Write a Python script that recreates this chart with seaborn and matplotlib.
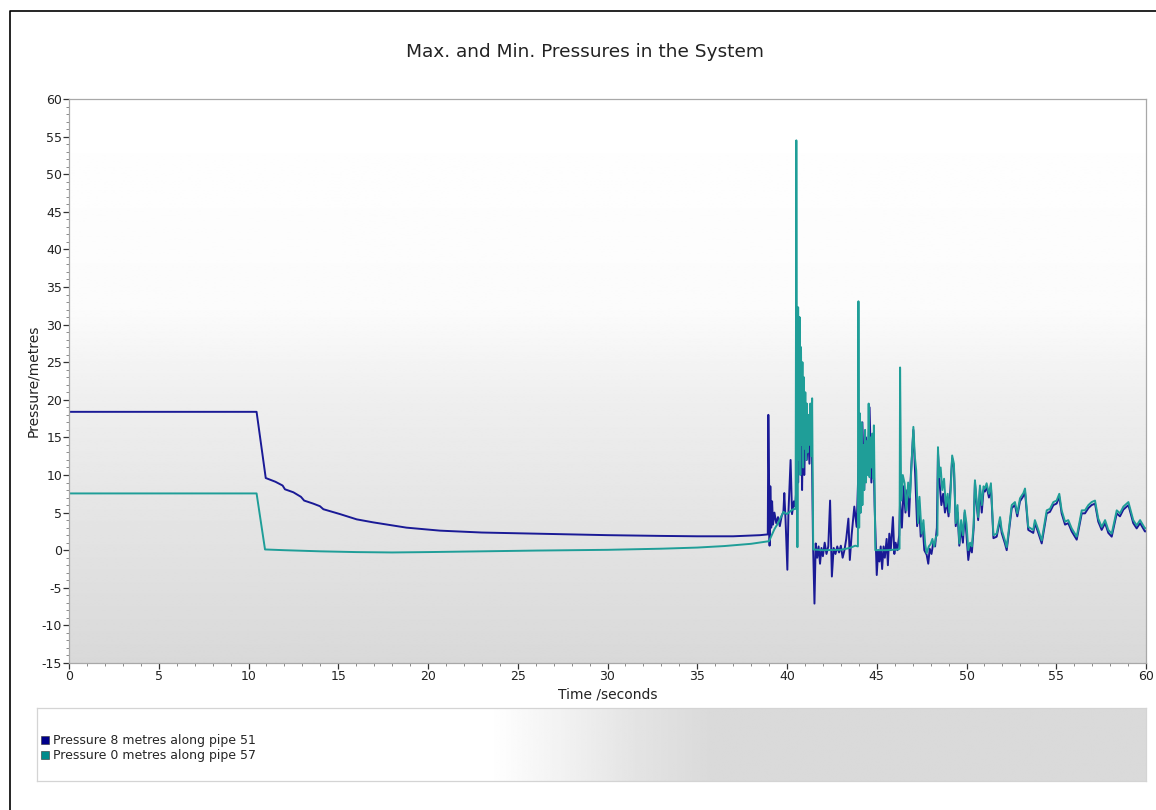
import numpy as np
import pandas as pd
import matplotlib
matplotlib.use("Agg")
import matplotlib.pyplot as plt
import seaborn as sns
from matplotlib.lines import Line2D
from matplotlib.ticker import MultipleLocator

sns.set_theme(style="white")
plt.rcParams['font.family'] = ['DejaVu Sans']
plt.rcParams['axes.unicode_minus'] = False

# ---------------- data ----------------
title = "Max. and Min. Pressures in the System"
x_label = "Time /seconds"
y_label = "Pressure/metres"
series_names = ["Pressure 8 metres along pipe 51", "Pressure 0 metres along pipe 57"]
series_colors = ["#1a1a96", "#1f9e98"]
legend_colors = ["#00008b", "#008b8b"]
x_ticks = list(range(0, 61, 5))
y_ticks = list(range(-15, 61, 5))

t_pipe51 = [0, 10.45, 10.96, 11.5, 11.9, 12.03, 12.5, 12.92, 13.1, 13.6, 13.98, 14.17, 15.1, 16.03,
            16.95, 18.8, 20.67, 23.0, 25.0, 28.0, 30.0, 33.0, 35.0, 37.0, 38.5, 38.93,
            38.96, 39.0, 39.03, 39.07, 39.12, 39.17, 39.22, 39.3, 39.4, 39.5, 39.6, 39.7, 39.8,
            39.85, 39.92, 40.02, 40.08, 40.2, 40.28, 40.38, 40.45, 40.52, 40.56, 40.62, 40.67,
            40.72, 40.78, 40.84, 40.9, 40.96, 41.02, 41.1, 41.18, 41.25, 41.32, 41.38, 41.45,
            41.53, 41.6, 41.68, 41.76, 41.84, 41.92, 42.0, 42.1, 42.2, 42.3, 42.4, 42.5, 42.6,
            42.7, 42.8, 42.9, 43.0, 43.1, 43.2, 43.3, 43.42, 43.5, 43.6, 43.75, 43.88, 43.97,
            44.02, 44.1, 44.2, 44.3, 44.4, 44.5, 44.6, 44.7, 44.8, 44.88, 44.95, 45.0, 45.08,
            45.15, 45.22, 45.3, 45.38, 45.45, 45.55, 45.62, 45.7, 45.78, 45.9, 45.98, 46.05,
            46.15, 46.25, 46.3, 46.4, 46.5, 46.6, 46.7, 46.8, 46.9, 47.04, 47.15, 47.25, 47.35,
            47.45, 47.55, 47.65, 47.78, 47.87, 47.95, 48.05, 48.15, 48.25, 48.35, 48.41, 48.5,
            48.6, 48.7, 48.8, 48.9, 49.0, 49.1, 49.2, 49.3, 49.4, 49.5, 49.6, 49.7, 49.8, 49.9,
            50.0, 50.1, 50.2, 50.3, 50.4, 50.47, 50.55, 50.65, 50.75, 50.85, 50.95, 51.03,
            51.12, 51.25, 51.36, 51.5, 51.68, 51.87, 51.96, 52.14, 52.24, 52.52, 52.7, 52.83,
            52.98, 53.17, 53.26, 53.44, 53.72, 53.81, 54.0, 54.19, 54.47, 54.65, 54.84, 55.02,
            55.17, 55.3, 55.49, 55.67, 55.86, 56.14, 56.42, 56.6, 56.79, 56.97, 57.16, 57.34,
            57.53, 57.72, 57.9, 58.09, 58.37, 58.55, 58.74, 59.02, 59.29, 59.48, 59.67, 59.94,
            60.0]
p_pipe51 = [18.4, 18.4, 9.6, 9.1, 8.6, 8.1, 7.7, 7.1, 6.6, 6.2, 5.85, 5.45, 4.8, 4.1,
            3.7, 3.0, 2.6, 2.35, 2.25, 2.1, 2.0, 1.9, 1.85, 1.85, 2.0, 2.1,
            18.0, 9.3, 0.6, 8.5, 3.0, 6.5, 3.4, 5.0, 3.6, 4.4, 3.2, 4.5, 5.1,
            7.6, 4.0, -2.6, 5.0, 12.0, 4.8, 6.5, 5.8, 8.0, 27.0, 9.0, 24.0,
            11.0, 20.0, 8.0, 17.5, 10.0, 15.0, 12.0, 16.0, 11.5, 18.0, 14.6, 0.9,
            -7.1, 0.9, -1.0, 0.5, -1.8, 0.3, -0.8, 1.0, -0.5, 0.5, 6.6, -3.5, 0.3,
            -0.5, 0.5, -0.3, 0.6, -1.0, 0.0, 1.5, 4.2, -1.3, 2.0, 5.8, 3.1, 10.0,
            18.0, 5.0, 17.0, 8.0, 15.0, 10.5, 19.0, 9.0, 15.5, 6.0, 0.5, -3.3, 0.0,
            -1.5, 0.5, -2.5, 0.5, -1.0, 1.5, -2.0, 2.2, 0.0, 4.4, -0.5, 1.0,
            0.0, 2.0, 6.5, 3.0, 8.5, 5.0, 8.0, 4.5, 10.0, 16.0, 9.5, 3.2, 6.5,
            1.8, 3.5, 0.0, -0.6, -1.8, 0.2, -0.5, 1.0, 0.5, 3.0, 13.0, 9.0,
            6.0, 7.5, 5.0, 6.5, 4.5, 8.0, 12.2, 11.0, 3.2, 5.0, 0.6, 3.0, 1.0, 5.0,
            2.0, -1.3, 0.5, -0.3, 3.0, 9.0, 6.5, 4.0, 8.2, 5.0, 8.0, 7.8,
            8.5, 7.0, 8.5, 1.6, 1.8, 4.0, 2.3, 0.9, 0.0, 5.6, 6.0, 4.5,
            6.5, 7.2, 7.8, 2.7, 2.3, 3.6, 2.3, 0.9, 4.9, 5.1, 6.0, 6.2,
            7.1, 4.9, 3.4, 3.6, 2.5, 1.4, 4.9, 4.9, 5.6, 6.0, 6.2, 3.8,
            2.7, 3.6, 2.3, 1.8, 4.9, 4.5, 5.4, 6.0, 3.6, 2.9, 3.6, 2.5,
            2.5]

t_pipe57 = [0, 10.45, 10.92, 12.0, 14.0, 16.0, 18.0, 20.0, 23.0, 26.0, 30.0, 33.0, 35.0, 36.5,
            38.0, 39.0, 39.3, 39.5, 39.8, 40.0, 40.3, 40.48, 40.52, 40.58, 40.62, 40.66, 40.7,
            40.74, 40.78, 40.82, 40.86, 40.9, 40.94, 40.98, 41.02, 41.06, 41.1, 41.15, 41.2,
            41.25, 41.3, 41.35, 41.4, 41.46, 42.0, 43.0, 43.5, 43.8, 43.95, 43.98, 44.02, 44.06,
            44.1, 44.15, 44.2, 44.25, 44.3, 44.35, 44.4, 44.45, 44.5, 44.55, 44.6, 44.65, 44.7,
            44.75, 44.8, 44.84, 44.92, 45.5, 46.2, 46.27, 46.3, 46.36, 46.45, 46.55, 46.65,
            46.75, 46.85, 46.95, 47.04, 47.12, 47.2, 47.3, 47.38, 47.5, 47.6, 47.7, 47.78, 47.9,
            48.0, 48.1, 48.2, 48.3, 48.38, 48.41, 48.48, 48.56, 48.65, 48.75, 48.85, 48.95,
            49.05, 49.12, 49.2, 49.3, 49.4, 49.5, 49.6, 49.7, 49.8, 49.9, 50.0, 50.1, 50.2,
            50.3, 50.4, 50.47, 50.55, 50.65, 50.75, 50.85, 50.95, 51.03, 51.12, 51.25, 51.36,
            51.5, 51.68, 51.87, 51.96, 52.14, 52.24, 52.52, 52.7, 52.83, 52.98, 53.17, 53.26,
            53.44, 53.72, 53.81, 54.0, 54.19, 54.47, 54.65, 54.84, 55.02, 55.17, 55.3, 55.49,
            55.67, 55.86, 56.14, 56.42, 56.6, 56.79, 56.97, 57.16, 57.34, 57.53, 57.72, 57.9,
            58.09, 58.37, 58.55, 58.74, 59.02, 59.29, 59.48, 59.67, 59.94, 60.0]
p_pipe57 = [7.55, 7.55, 0.1, 0.0, -0.15, -0.25, -0.3, -0.25, -0.15, -0.05, 0.05, 0.2, 0.35, 0.55,
            0.85, 1.2, 2.8, 3.6, 5.1, 4.8, 5.4, 5.5, 54.5, 0.4, 32.3, 12.0, 31.0,
            10.0, 27.0, 14.0, 25.0, 11.0, 23.0, 13.5, 21.0, 12.0, 19.5, 13.0, 18.0,
            14.0, 19.5, 12.5, 20.2, 0.1, 0.0, 0.05, 0.3, 0.6, 0.5, 33.1, 3.0, 18.2,
            5.0, 17.0, 6.0, 14.0, 8.0, 16.0, 9.0, 14.5, 10.0, 19.5, 9.7, 15.0, 11.0,
            15.5, 9.5, 16.6, 0.0, 0.0, 0.1, 0.2, 24.3, 6.6, 10.0, 8.9, 5.3,
            9.0, 7.0, 12.0, 16.4, 12.5, 10.6, 3.6, 7.1, 2.2, 4.0, 0.8, -0.4, 0.5,
            0.8, 1.5, 0.5, 1.8, 2.0, 13.7, 9.7, 11.0, 8.0, 9.5, 5.8, 7.5,
            5.0, 8.0, 12.6, 11.5, 3.6, 6.0, 0.9, 4.0, 2.0, 5.3, 3.5, 0.0, 1.0,
            0.5, 3.5, 9.3, 7.0, 4.4, 8.6, 6.0, 8.5, 8.2, 8.9, 7.5, 8.9,
            2.0, 2.2, 4.4, 2.7, 1.3, 0.4, 6.0, 6.4, 4.9, 6.9, 7.6, 8.2,
            3.1, 2.7, 4.0, 2.7, 1.3, 5.3, 5.5, 6.4, 6.6, 7.5, 5.3, 3.8,
            4.0, 2.9, 1.8, 5.3, 5.3, 6.0, 6.4, 6.6, 4.2, 3.1, 4.0, 2.7,
            2.2, 5.3, 4.9, 5.8, 6.4, 4.0, 3.3, 4.0, 2.9, 2.9]

# ---------------- figure ----------------
W, H = 1156, 810
fig = plt.figure(figsize=(W / 100, H / 100), dpi=100)
fig.patch.set_facecolor("white")

ax_l, ax_r, ax_t, ax_b = 69, 1146, 99, 663
ax = fig.add_axes([ax_l / W, (H - ax_b) / H, (ax_r - ax_l) / W, (ax_b - ax_t) / H])

# vertical gradient background of the plot area
yy = np.linspace(60, -15, 400)
shade = np.interp(yy, [-15, 0, 20, 32, 60], [0.85, 0.885, 0.935, 0.985, 1.0])
ax.imshow(np.tile(shade[:, None], (1, 2)), extent=[0, 60, -15, 60], aspect="auto",
          cmap="gray", vmin=0, vmax=1, zorder=0, interpolation="bilinear")

df = pd.concat([
    pd.DataFrame({"t": t_pipe51, "p": p_pipe51, "series": series_names[0]}),
    pd.DataFrame({"t": t_pipe57, "p": p_pipe57, "series": series_names[1]}),
], ignore_index=True)

sns.lineplot(data=df, x="t", y="p", hue="series", hue_order=series_names,
             palette=dict(zip(series_names, series_colors)), estimator=None, sort=False,
             linewidth=1.4, legend=False, ax=ax, zorder=2)

ax.set_xlim(0, 60)
ax.set_ylim(-15, 60)
ax.set_xticks(x_ticks)
ax.set_yticks(y_ticks)
ax.xaxis.set_minor_locator(MultipleLocator(1))
ax.yaxis.set_minor_locator(MultipleLocator(1))
ax.tick_params(axis="both", which="major", direction="out", length=4, width=0.9,
               color="#333333", labelsize=9, labelcolor="#222222", pad=1,
               bottom=True, left=True)
ax.tick_params(axis="both", which="minor", direction="out", length=2, width=0.6,
               color="#777777", bottom=True, left=True)
for s in ax.spines.values():
    s.set_color("#a8a8a8")
    s.set_linewidth(0.9)
ax.grid(False)
ax.set_xlabel(x_label, fontsize=10, color="#222222", labelpad=3)
ax.set_ylabel(y_label, fontsize=10, color="#222222", labelpad=1)

fig.text(585 / W, 1 - 52 / H, title, ha="center", va="center", fontsize=13.3, color="#222222")

# legend panel with horizontal gradient
lg_l, lg_r, lg_t, lg_b = 37, 1146, 708, 781
lax = fig.add_axes([lg_l / W, (H - lg_b) / H, (lg_r - lg_l) / W, (lg_b - lg_t) / H])
xx = np.linspace(lg_l, lg_r, 600)
hshade = np.interp(xx, [lg_l, 490, 560, 640, 710, lg_r], [1.0, 1.0, 0.95, 0.89, 0.855, 0.855])
lax.imshow(np.tile(hshade[None, :], (2, 1)), extent=[0, 1, 0, 1], aspect="auto",
           cmap="gray", vmin=0, vmax=1, interpolation="bilinear")
lax.set_xlim(0, 1)
lax.set_ylim(0, 1)
lax.set_xticks([])
lax.set_yticks([])
for s in lax.spines.values():
    s.set_color("#d4d4d4")
    s.set_linewidth(0.9)
handles = [Line2D([0], [0], marker="s", linestyle="none", markersize=6,
                  markerfacecolor=c, markeredgecolor="#333333", markeredgewidth=0.4)
           for c in legend_colors]
lax.legend(handles, series_names, loc="center left", bbox_to_anchor=(-0.004, 0.45),
           frameon=False, fontsize=9.0, handlelength=0.6, handletextpad=0.35,
           labelspacing=0.2, borderaxespad=0.3)

# outer frame (top and left edges visible)
fig.add_artist(Line2D([10 / W, 10 / W, 1.0], [0.0, 1 - 11 / H, 1 - 11 / H],
                      transform=fig.transFigure, color="black", linewidth=1.2))

fig.savefig("out.png", dpi=100)
